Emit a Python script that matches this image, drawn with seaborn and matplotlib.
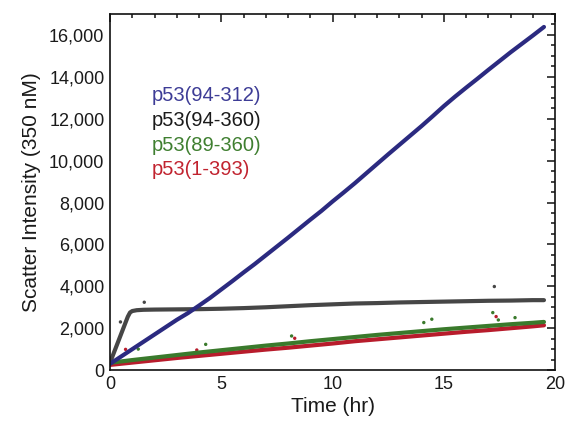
import numpy as np
import pandas as pd
import seaborn as sns
import matplotlib.pyplot as plt
from matplotlib.ticker import MultipleLocator, FuncFormatter

# values (time in hr, scatter intensity)
t_blue = [0, 0.5, 1.0, 1.5, 2.0, 2.5, 3.0, 3.5, 4.0, 4.5, 5.0, 5.5, 6.0, 6.5, 7.0,
          7.5, 8.0, 8.5, 9.0, 9.5, 10.0, 10.5, 11.0, 11.5, 12.0, 12.5, 13.0, 13.5,
          14.0, 14.5, 15.0, 15.5, 16.0, 16.5, 17.0, 17.5, 18.0, 18.5, 19.0, 19.5]
v_blue = [300, 650, 1000, 1350, 1700, 2050, 2400, 2720, 3080, 3450, 3850, 4250,
          4660, 5060, 5480, 5900, 6320, 6750, 7180, 7600, 8050, 8480, 8920, 9380,
          9840, 10300, 10750, 11200, 11650, 12120, 12600, 13050, 13480, 13900,
          14330, 14750, 15170, 15570, 15970, 16380]

t_gray = [0, 0.2, 0.4, 0.6, 0.8, 0.9, 1.0, 1.2, 1.5, 2.0, 3.0, 4.0, 5.0, 6.0,
          7.0, 8.0, 9.0, 10.0, 11.0, 12.0, 13.0, 14.0, 15.0, 16.0, 17.0, 18.0,
          19.0, 19.5]
v_gray = [350, 900, 1450, 2000, 2550, 2750, 2820, 2860, 2880, 2890, 2900, 2910,
          2930, 2960, 3000, 3050, 3100, 3140, 3180, 3200, 3230, 3250, 3270, 3290,
          3310, 3320, 3340, 3340]

t_green = [0, 1, 2, 3, 4, 5, 6, 7, 8, 9, 10, 11, 12, 13, 14, 15, 16, 17, 18, 19, 19.5]
v_green = [350, 480, 600, 720, 840, 950, 1060, 1170, 1270, 1380, 1480, 1580,
           1680, 1770, 1860, 1950, 2030, 2110, 2190, 2260, 2300]

t_red = [0, 1, 2, 3, 4, 5, 6, 7, 8, 9, 10, 11, 12, 13, 14, 15, 16, 17, 18, 19, 19.5]
v_red = [250, 360, 470, 580, 680, 780, 880, 980, 1070, 1170, 1270, 1380,
         1470, 1560, 1650, 1740, 1830, 1910, 2000, 2090, 2140]

# stray points
out_t = [1.54, 17.27, 0.47, 0.7, 3.9, 8.3, 17.35, 1.27, 4.3, 8.16, 14.1, 14.46, 17.2, 17.45, 18.2]
out_v = [3240, 3990, 2300, 990, 960, 1520, 2555, 1005, 1230, 1630, 2270, 2430, 2745, 2395, 2505]
out_s = ['gray', 'gray', 'gray', 'red', 'red', 'red', 'red',
         'green', 'green', 'green', 'green', 'green', 'green', 'green', 'green']

labels = ['p53(94-312)', 'p53(94-360)', 'p53(89-360)', 'p53(1-393)']
line_colors = {'blue': '#2b2a80', 'gray': '#464646', 'green': '#3a7a2c', 'red': '#b81c2c'}
text_colors = ['#3d3c96', '#1a1a1a', '#3f7f30', '#c1232f']

df = pd.concat([
    pd.DataFrame({'t': t_red, 'v': v_red, 's': 'red'}),
    pd.DataFrame({'t': t_green, 'v': v_green, 's': 'green'}),
    pd.DataFrame({'t': t_gray, 'v': v_gray, 's': 'gray'}),
    pd.DataFrame({'t': t_blue, 'v': v_blue, 's': 'blue'}),
])
outliers = pd.DataFrame({'t': out_t, 'v': out_v, 's': out_s})

sns.set_style('white')
plt.rcParams['font.family'] = ['Liberation Sans', 'DejaVu Sans']

fig = plt.figure(figsize=(5.67, 4.23), dpi=100)
ax = fig.add_axes([0.194, 0.125, 0.785, 0.842])

sns.lineplot(data=df, x='t', y='v', hue='s', palette=line_colors, linewidth=3,
             legend=False, ax=ax, sort=False)
sns.scatterplot(data=outliers, x='t', y='v', hue='s', palette=line_colors, s=6,
                linewidth=0, legend=False, ax=ax)

ax.set_xlim(0, 20)
ax.set_ylim(0, 17000)
ax.xaxis.set_major_locator(MultipleLocator(5))
ax.xaxis.set_minor_locator(MultipleLocator(1))
ax.yaxis.set_major_locator(MultipleLocator(2000))
ax.yaxis.set_minor_locator(MultipleLocator(500))
ax.yaxis.set_major_formatter(FuncFormatter(lambda v, p: f'{int(v):,}'))
ax.tick_params(which='both', direction='in', top=True, right=True, colors='#111111',
               labelcolor='#1a1a1a', labelsize=13, width=1.1)
ax.tick_params(which='major', length=6, pad=4)
ax.tick_params(which='minor', length=3)
for sp in ax.spines.values():
    sp.set_linewidth(1.2)
    sp.set_color('#111111')

ax.set_xlabel('Time (hr)', fontsize=15, color='#1a1a1a', labelpad=3)
ax.set_ylabel('Scatter Intensity (350 nM)', fontsize=15, color='#1a1a1a', labelpad=6)

for i, (lab, col) in enumerate(zip(labels, text_colors)):
    ax.text(0.094, 0.772 - i * 0.07, lab, color=col, fontsize=14.5,
            transform=ax.transAxes, va='center', ha='left')

fig.savefig('out.png', dpi=100)
